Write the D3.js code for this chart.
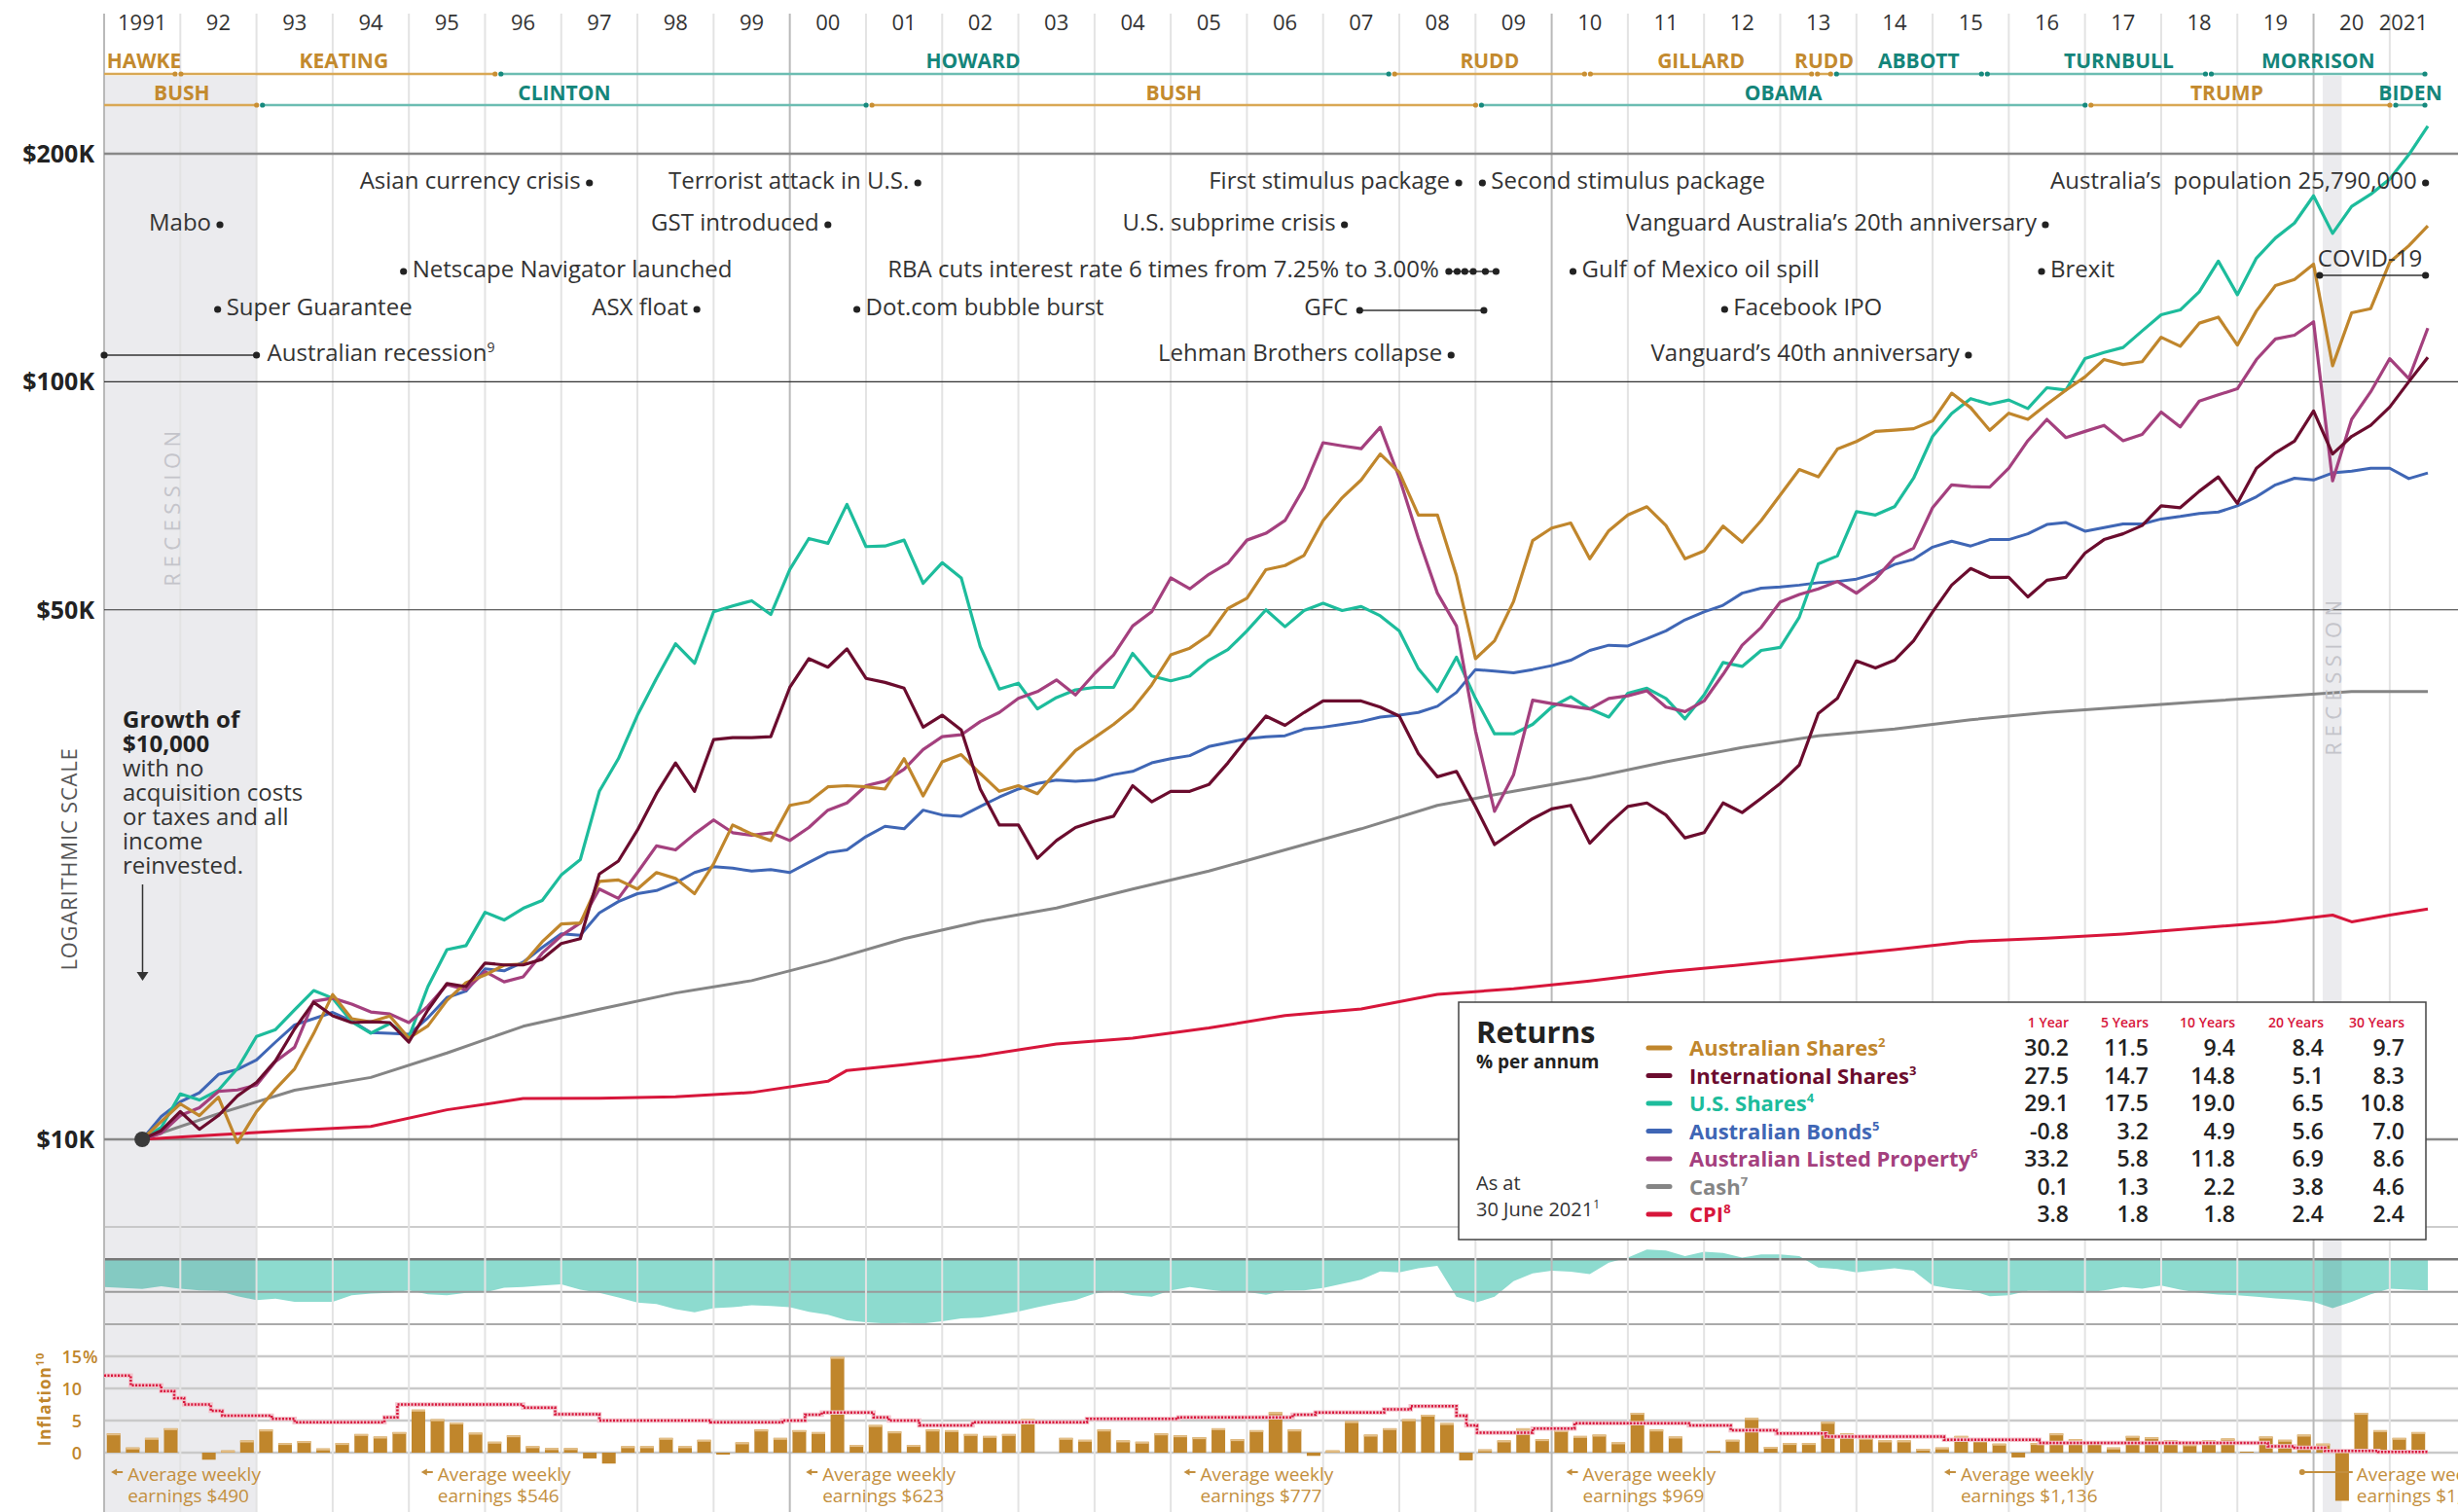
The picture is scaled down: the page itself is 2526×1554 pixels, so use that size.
<!DOCTYPE html>
<html>
<head>
<meta charset="utf-8">
<script src="https://cdn.jsdelivr.net/npm/d3@7"></script>
<style>
  body { margin: 0; background: #fff; }
  svg text { font-family: "Open Sans", "DejaVu Sans", sans-serif; }
</style>
</head>
<body>
<div id="chart"></div>
<script>
// ---------- data ----------
var years = d3.range(1991, 2022);
var yearLabels = ["1991","92","93","94","95","96","97","98","99","00","01","02","03","04","05","06","07","08","09","10","11","12","13","14","15","16","17","18","19","20","2021"];

// growth of $10,000 in $K, quarterly from June 1991 to June 2021
var quarterDates = d3.range(121).map(function(i) { return 1991.5 + i / 4; });
var ausShares = [10.0, 10.56,
  11.14, 10.75, 11.37, 9.9,   10.88, 11.65, 12.39, 13.79,  15.53, 14.43, 14.29, 14.55,
  13.60, 14.12, 15.26, 16.10, 16.48, 16.98, 17.04, 18.23,  19.24, 19.3, 21.9, 22.0,
  21.4, 22.5, 22.1, 21.1,     23.1, 26.0, 25.3, 24.8,      27.6, 27.9, 29.2, 29.3,
  29.2, 29.0, 31.8, 28.4,     31.5, 32.2, 30.4, 28.8,      29.3, 28.6, 30.6, 32.6,
  33.9, 35.3, 37.0, 39.8,     43.6, 44.5, 46.3, 50.2,      51.8, 56.5, 57.2, 59.0,
  65.6, 70.3, 74.2, 80.3,     75.9, 66.7, 66.7, 55.5,      43.1, 45.5, 51.3, 61.7,
  64.1, 65.1, 58.4, 63.6,     66.7, 68.4, 64.6, 58.4,      59.8, 64.5, 61.4, 65.6,
  70.9, 76.6, 74.9, 81.5,     83.4, 86.0, 86.3, 86.7,      88.8, 96.6, 92.4, 86.3,
  90.9, 89.2, 93.4, 97.5,     101.5, 107.0, 105.4, 106.3,  114.5, 111.4, 119.5, 121.7,
  111.8, 124.0, 134.0, 136.5, 143.0, 105.0, 123.3, 124.9,  143.8, 151.2, 160.6];
var intShares = [10.0, 10.27,
  10.88, 10.31, 10.75, 11.41, 11.89, 12.70, 13.99, 15.17,  14.56, 14.26, 14.30, 14.26,
  13.44, 14.82, 16.06, 15.91, 17.09, 16.99, 16.99, 17.29,  18.13, 18.4, 22.4, 23.3,
  25.6, 28.6, 31.4, 28.8,     33.7, 33.9, 33.9, 34.0,      39.5, 43.1, 42.0, 44.4,
  40.6, 40.1, 39.4, 35.0,     36.3, 34.7, 29.0, 26.0,      26.0, 23.5, 24.8, 25.8,
  26.3, 26.7, 29.3, 27.9,     28.8, 28.8, 29.4, 31.4,      33.8, 36.2, 35.2, 36.6,
  37.9, 37.9, 37.9, 37.2,     36.2, 32.3, 30.1, 30.6,      27.5, 24.5, 25.5, 26.5,
  27.3, 27.6, 24.6, 26.1,     27.5, 27.8, 26.8, 25.0,      25.4, 27.8, 27.0, 28.2,
  29.5, 31.2, 36.5, 38.2,     42.8, 41.9, 42.9, 45.5,      49.7, 53.9, 56.7, 55.2,
  55.2, 52.0, 54.7, 55.2,     59.4, 61.9, 63.0, 64.6,      68.6, 68.2, 71.7, 74.9,
  69.1, 76.9, 80.6, 83.5,     91.5, 80.3, 84.7, 87.6,      92.6, 100.0, 107.7];
var usShares = [10.0, 10.37,
  11.48, 11.27, 11.61, 12.40, 13.67, 13.96, 14.82, 15.72,  15.36, 14.30, 13.81, 14.22,
  13.64, 15.91, 17.80, 18.02, 19.94, 19.48, 20.18, 20.67,  22.33, 23.4, 28.8, 31.8,
  36.3, 40.6, 45.1, 42.5,     49.7, 50.6, 51.4, 49.3,      56.5, 62.1, 61.2, 68.9,
  60.6, 60.7, 61.8, 54.2,     57.7, 55.1, 44.7, 39.3,      40.0, 37.0, 38.3, 39.2,
  39.5, 39.5, 43.8, 40.9,     40.3, 40.9, 42.9, 44.3,      46.9, 50.0, 47.5, 49.9,
  51.0, 49.9, 50.5, 49.1,     46.9, 41.8, 39.0, 43.3,      38.2, 34.3, 34.3, 35.3,
  37.2, 38.4, 37.0, 36.1,     38.8, 39.4, 38.2, 35.9,      38.6, 42.6, 42.1, 44.2,
  44.6, 48.9, 57.5, 58.9,     67.4, 66.7, 68.4, 74.6,      84.7, 90.8, 95.0, 93.4,
  94.6, 92.2, 98.2, 97.5,     107.3, 109.3, 111.0, 116.7,  122.6, 124.4, 131.5, 144.3,
  130.3, 145.6, 154.8, 162.0, 176.0, 157.0, 170.4, 176.8,  185.2, 199.4, 217.5];
var ausBonds = [10.0, 10.72,
  11.21, 11.52, 12.18, 12.37, 12.73, 13.44, 14.16, 14.43,  14.71, 14.33, 13.83, 13.80,
  13.76, 14.47, 15.39, 15.69, 16.79, 16.69, 17.13, 17.92,  18.68, 18.6, 19.9, 20.6,
  21.1, 21.3, 21.8, 22.5,     22.9, 22.8, 22.6, 22.7,      22.5, 23.2, 23.9, 24.1,
  25.1, 25.9, 25.7, 27.2,     26.8, 26.7, 27.5, 28.3,      29.0, 29.5, 29.8, 29.7,
  29.8, 30.3, 30.6, 31.4,     31.8, 32.1, 33.0, 33.4,      33.8, 34.0, 34.1, 34.8,
  35.0, 35.3, 35.6, 36.1,     36.3, 36.6, 37.3, 38.9,      41.7, 41.5, 41.3, 41.7,
  42.2, 42.9, 44.2, 44.9,     44.8, 45.8, 46.9, 48.5,      49.7, 50.7, 52.6, 53.4,
  53.6, 53.9, 54.3, 54.5,     54.9, 55.8, 57.4, 58.3,      60.5, 61.6, 60.7, 61.9,
  61.9, 63.0, 64.8, 65.2,     63.5, 64.2, 64.9, 64.9,      65.9, 66.4, 67.0, 67.3,
  68.6, 70.5, 73.1, 74.6,     74.2, 75.8, 76.2, 76.9,      76.9, 74.5, 75.8];
var ausProperty = [10.0, 10.19,
  10.75, 11.01, 11.57, 11.62, 11.79, 12.67, 13.23, 15.21,  15.36, 15.08, 14.73, 14.64,
  14.26, 14.99, 16.01, 15.76, 16.65, 16.14, 16.39, 17.61,  18.57, 19.3, 21.4, 20.8,
  22.5, 24.4, 24.1, 25.3,     26.4, 25.4, 25.2, 25.4,      24.8, 25.8, 27.2, 27.8,
  29.3, 29.7, 30.8, 32.7,     34.0, 34.2, 35.6, 36.6,      38.2, 39.0, 40.4, 38.6,
  41.2, 43.6, 47.6, 49.7,     55.1, 53.3, 55.7, 57.6,      61.8, 63.1, 65.6, 72.5,
  83.1, 82.3, 81.6, 87.1,     74.7, 62.2, 52.6, 47.6,      34.6, 27.1, 30.3, 38.0,
  37.6, 37.3, 37.0, 38.2,     38.5, 39.1, 37.2, 36.7,      37.9, 41.1, 44.9, 47.4,
  51.2, 52.4, 53.3, 54.5,     52.6, 54.9, 58.6, 60.3,      68.2, 73.1, 72.7, 72.6,
  76.9, 83.6, 89.2, 84.4,     86.0, 87.6, 83.6, 85.2,      91.2, 87.2, 94.3, 96.1,
  97.9, 107.0, 113.9, 115.2,  120.0, 74.0, 89.2, 97.0,     107.3, 101.0, 117.7];
var cashDates = d3.range(31).map(function(i) { return 1991.5 + i; });
var cashValues = [10.0, 10.81, 11.61, 12.07, 13.0, 14.1, 14.85, 15.6, 16.2, 17.2, 18.4, 19.4, 20.2, 21.4, 22.6,
  24.1, 25.7, 27.6, 28.8, 30.0, 31.5, 32.9, 34.1, 34.8, 35.8, 36.6, 37.2, 37.8, 38.4, 39.0, 39.0];
var cpiDates = [1991.5, 1992.5, 1993.5, 1994.5, 1995.5, 1996.5, 1997.5, 1998.5, 1999.5, 2000.5, 2000.75, 2001.5,
  2002.5, 2003.5, 2004.5, 2005.5, 2006.5, 2007.5, 2008.5, 2009.5, 2010.5, 2011.5, 2012.5, 2013.5, 2014.5,
  2015.5, 2016.5, 2017.5, 2018.5, 2019.5, 2020.25, 2020.5, 2021.0, 2021.5];
var cpiValues = [10.0, 10.14, 10.28, 10.40, 10.94, 11.32, 11.33, 11.38, 11.53, 11.93, 12.33, 12.55,
  12.89, 13.36, 13.60, 14.03, 14.57, 14.86, 15.54, 15.80, 16.18, 16.64, 17.00, 17.40, 17.80,
  18.25, 18.43, 18.67, 19.01, 19.37, 19.77, 19.37, 19.77, 20.14];

// AUD in USD, quarterly from Jan 1991
var audDates = d3.range(123).map(function(i) { return 1991 + i / 4; });
var audUsd = [0.786, 0.779, 0.771, 0.792, 0.774, 0.761, 0.756, 0.716, 0.686, 0.696, 0.673, 0.673,
  0.673, 0.724, 0.736, 0.741, 0.761, 0.731, 0.724, 0.741, 0.746, 0.781, 0.786, 0.799,
  0.807, 0.766, 0.741, 0.706, 0.666, 0.656, 0.616, 0.591, 0.623, 0.631, 0.646, 0.641,
  0.631, 0.596, 0.573, 0.530, 0.515, 0.505, 0.510, 0.505, 0.523, 0.545, 0.550, 0.573,
  0.598, 0.631, 0.661, 0.686, 0.736, 0.756, 0.724, 0.711, 0.761, 0.786, 0.766, 0.749,
  0.749, 0.726, 0.759, 0.761, 0.779, 0.812, 0.844, 0.907, 0.900, 0.932, 0.950, 0.711,
  0.666, 0.711, 0.832, 0.892, 0.912, 0.905, 0.887, 0.975, 1.013, 1.075, 1.068, 1.025,
  1.058, 1.050, 1.013, 1.038, 1.038, 1.025, 0.937, 0.925, 0.900, 0.917, 0.932, 0.912,
  0.799, 0.774, 0.761, 0.716, 0.724, 0.756, 0.756, 0.749, 0.741, 0.761, 0.786, 0.774,
  0.799, 0.766, 0.741, 0.729, 0.724, 0.711, 0.699, 0.689, 0.673, 0.623, 0.673, 0.731,
  0.774, 0.766, 0.761];

// inflation, % annualised, one bar per quarter from 1991 Q1
var inflation = [3.0, 0.8, 2.3, 3.8,  0.0, -1.1, 0.35, 1.9,  3.6, 1.5, 1.8, 0.65,  1.5, 2.9, 2.5, 3.2,
  6.7, 5.2, 4.7, 3.1,  1.7, 2.7, 1.0, 0.7,  0.7, -0.9, -1.7, 1.0,  1.0, 2.3, 1.0, 2.0,
  -0.3, 1.6, 3.6, 2.3,  3.5, 3.2, 14.9, 1.2,  4.3, 3.3, 1.2, 3.6,  3.5, 2.9, 2.6, 2.9,
  5.2, 0.0, 2.3, 2.0,  3.6, 1.9, 1.7, 3.0,  2.7, 2.4, 3.8, 2.1,  3.5, 6.3, 3.6, -0.5,
  0.35, 4.9, 2.8, 3.8,  5.2, 5.9, 4.6, -1.2,  0.5, 1.9, 3.8, 2.1,  3.5, 2.6, 2.8, 1.6,
  6.2, 3.6, 2.5, 0.0,  0.25, 2.0, 5.4, 0.9,  1.5, 1.5, 4.8, 3.0,  2.3, 1.9, 1.9, 0.6,
  0.8, 2.6, 1.9, 1.4,  -0.75, 1.5, 3.0, 2.1,  1.7, 0.8, 2.6, 2.4,  1.9, 1.3, 1.9, 2.2,
  0.15, 2.5, 2.0, 2.8,  1.4, -7.5, 6.2, 3.5,  2.3, 3.2];

// cash rate, %
var rateDates = [1991.0, 1991.35, 1991.75, 1991.92, 1992.05, 1992.4, 1992.55, 1993.2, 1993.5, 1994.68, 1994.85,
  1996.5, 1996.92, 1997.5, 1998.96, 1999.9, 2000.2, 2000.42, 2001.1, 2001.3, 2001.7, 2002.4, 2003.9, 2005.1,
  2006.6, 2006.9, 2007.8, 2008.15, 2008.75, 2008.88, 2009.02, 2009.75, 2010.3, 2011.8, 2012.35, 2012.95,
  2013.6, 2015.15, 2016.4, 2019.4, 2019.75, 2020.15, 2020.85, 2021.5];
var rateValues = [12.0, 10.5, 9.6, 8.5, 7.5, 6.5, 5.75, 5.25, 4.75, 5.5, 7.5,
  7.0, 6.0, 5.0, 4.75, 5.0, 5.9, 6.25, 5.5, 5.0, 4.25, 4.75, 5.25, 5.5,
  5.9, 6.25, 6.75, 7.25, 5.75, 4.25, 3.1, 3.75, 4.6, 4.25, 3.5, 3.0,
  2.5, 2.0, 1.5, 1.0, 0.75, 0.25, 0.1, 0.1];

var recessionStart = [1991.0, 2020.12];
var recessionEnd = [1993.0, 2020.37];

var pmNames = ["HAWKE", "KEATING", "HOWARD", "RUDD", "GILLARD", "RUDD", "ABBOTT", "TURNBULL", "MORRISON"];
var pmStart = [1991.0, 1991.97, 1996.17, 2007.9, 2010.47, 2013.45, 2013.7, 2015.68, 2018.62];
var pmGold = [true, true, false, true, true, true, false, false, false];
var usNames = ["BUSH", "CLINTON", "BUSH", "OBAMA", "TRUMP", "BIDEN"];
var usStart = [1991.0, 1993.04, 2001.04, 2009.04, 2017.04, 2021.04];
var usGold = [true, false, true, false, true, false];

var eventLabels = ["Asian currency crisis", "Terrorist attack in U.S.", "First stimulus package", "Second stimulus package",
  "Australia\u2019s  population 25,790,000", "Mabo", "GST introduced", "U.S. subprime crisis",
  "Vanguard Australia\u2019s 20th anniversary", "Netscape Navigator launched", "Gulf of Mexico oil spill", "Brexit",
  "Super Guarantee", "ASX float", "Dot.com bubble burst", "Facebook IPO", "Lehman Brothers collapse",
  "Vanguard\u2019s 40th anniversary"];
var eventDates = [1997.37, 2001.68, 2008.78, 2009.09, 2021.47, 1992.52, 2000.5, 2007.28, 2016.48, 1994.93,
  2010.28, 2016.43, 1992.49, 1998.78, 2000.88, 2012.27, 2008.68, 2015.47];
var eventRows = [0, 0, 0, 0, 0, 1, 1, 1, 1, 2, 2, 2, 3, 3, 3, 3, 4, 4];
var eventTextLeft = [true, true, true, false, true, true, true, true, true, false, false, false, false, true, false, false, true, true];
var rbaCutDates = [2008.65, 2008.76, 2008.86, 2008.97, 2009.13, 2009.27];

var earningsDates = [1991.04, 1995.11, 2000.16, 2005.12, 2010.14, 2015.1, 2019.85];
var earningsLabels = ["$490", "$546", "$623", "$777", "$969", "$1,136", "$1,737"];

var seriesNames = ["Australian Shares", "International Shares", "U.S. Shares", "Australian Bonds",
  "Australian Listed Property", "Cash", "CPI"];
var seriesNotes = ["2", "3", "4", "5", "6", "7", "8"];
var seriesColors = ["#c0862c", "#6b0c2e", "#1dbc9c", "#3f66b5", "#a4407e", "#858585", "#d7163b"];
var returnPeriods = ["1 Year", "5 Years", "10 Years", "20 Years", "30 Years"];
var returnsTable = [
  [30.2, 11.5, 9.4, 8.4, 9.7],
  [27.5, 14.7, 14.8, 5.1, 8.3],
  [29.1, 17.5, 19.0, 6.5, 10.8],
  [-0.8, 3.2, 4.9, 5.6, 7.0],
  [33.2, 5.8, 11.8, 6.9, 8.6],
  [0.1, 1.3, 2.2, 3.8, 4.6],
  [3.8, 1.8, 1.8, 2.4, 2.4]];

// ---------- drawing ----------
var svgWidth = 2526;
var svgHeight = 1554;
var svg = d3.select("#chart").append("svg")
  .attr("width", svgWidth)
  .attr("height", svgHeight);
svg.append("rect").attr("width", svgWidth).attr("height", svgHeight).attr("fill", "#fff");

var x = d3.scaleLinear().domain([1991, 2021.5]).range([107, 2495]);
var y = d3.scaleLog().domain([10, 200]).range([1171, 158]);
var yAud = d3.scaleLinear().domain([0.5, 1.25]).range([1361, 1261]);
var yInf = d3.scaleLinear().domain([0, 15]).range([1493, 1394]);

var gold = "#c0862c";

// exchange-rate band
svg.append("path")
  .datum(audDates.map(function(d, i) { return [d, audUsd[i]]; }))
  .attr("fill", "#8ddbcf")
  .attr("d", d3.area().x(function(d) { return x(d[0]); }).y0(yAud(1)).y1(function(d) { return yAud(d[1]); }));

// recession shading
recessionStart.forEach(function(s, i) {
  svg.append("rect")
    .attr("x", x(s)).attr("width", x(recessionEnd[i]) - x(s))
    .attr("y", 78).attr("height", svgHeight - 78)
    .attr("fill", "#3c3c5a").attr("opacity", 0.1);
});

// lower horizontal grid
[[1.25, "#bdbdbd", 1.5], [1, "#777", 2.5], [0.75, "#9a9a9a", 2], [0.5, "#aaa", 2]].forEach(function(g) {
  svg.append("line").attr("x1", 107).attr("x2", svgWidth).attr("y1", yAud(g[0])).attr("y2", yAud(g[0]))
    .attr("stroke", g[1]).attr("stroke-width", g[2]);
});
[15, 10, 5, 0].forEach(function(v) {
  svg.append("line").attr("x1", 107).attr("x2", svgWidth).attr("y1", yInf(v)).attr("y2", yInf(v))
    .attr("stroke", "#c9c9c9").attr("stroke-width", 2.5);
});

// vertical year grid
years.forEach(function(yr) {
  var dark = yr % 10 === 0 || yr === 1991;
  svg.append("line").attr("x1", x(yr)).attr("x2", x(yr)).attr("y1", 14).attr("y2", svgHeight)
    .attr("stroke", dark ? "#b9b9b9" : "#e3e3e3").attr("stroke-width", 2);
});

// inflation bars
var bars = svg.append("g");
inflation.forEach(function(v, k) {
  var cx = x(1991 + (k + 0.5) / 4);
  bars.append("rect")
    .attr("x", cx - 7).attr("width", 14)
    .attr("y", yInf(Math.max(v, 0))).attr("height", Math.abs(yInf(v) - yInf(0)))
    .attr("fill", gold);
  if (v > 0.3) {
    bars.append("rect").attr("x", cx - 7).attr("width", 14).attr("y", yInf(v)).attr("height", 2).attr("fill", "#e4c08a");
  }
});

// cash rate dotted line
var rateLine = d3.line().curve(d3.curveStepAfter)
  .x(function(d) { return x(d[0]); }).y(function(d) { return yInf(d[1]); });
var rateData = rateDates.map(function(d, i) { return [d, rateValues[i]]; });
svg.append("path").datum(rateData).attr("d", rateLine).attr("fill", "none")
  .attr("stroke", "#f3c4cd").attr("stroke-width", 4.5);
svg.append("path").datum(rateData).attr("d", rateLine).attr("fill", "none")
  .attr("stroke", "#d7163b").attr("stroke-width", 2.5).attr("stroke-dasharray", "2 1.5");

// main horizontal grid
[[200, "#888", 2.5], [100, "#333", 1.2], [50, "#333", 1.2], [10, "#888", 2.5]].forEach(function(g) {
  svg.append("line").attr("x1", 107).attr("x2", svgWidth).attr("y1", y(g[0])).attr("y2", y(g[0]))
    .attr("stroke", g[1]).attr("stroke-width", g[2]);
});

// series
var line = d3.line().x(function(d) { return x(d[0]); }).y(function(d) { return y(d[1]); });
function pairs(dates, values) { return dates.map(function(d, i) { return [d, values[i]]; }); }
var drawOrder = [
  [pairs(cashDates, cashValues), seriesColors[5], 3],
  [pairs(cpiDates, cpiValues), seriesColors[6], 3],
  [pairs(quarterDates, ausBonds), seriesColors[3], 3],
  [pairs(quarterDates, usShares), seriesColors[2], 3.2],
  [pairs(quarterDates, ausProperty), seriesColors[4], 3.2],
  [pairs(quarterDates, ausShares), seriesColors[0], 3.2],
  [pairs(quarterDates, intShares), seriesColors[1], 3.2]];
drawOrder.forEach(function(s) {
  svg.append("path").datum(s[0]).attr("d", line).attr("fill", "none")
    .attr("stroke", s[1]).attr("stroke-width", s[2]).attr("stroke-linejoin", "round");
});
svg.append("circle").attr("cx", x(1991.5)).attr("cy", y(10)).attr("r", 8).attr("fill", "#3a3a3a");

// y axis labels
[[200, "$200K"], [100, "$100K"], [50, "$50K"], [10, "$10K"]].forEach(function(t) {
  svg.append("text").attr("x", 97).attr("y", y(t[0]) + 9).attr("text-anchor", "end")
    .attr("font-size", 25).attr("font-weight", 700).attr("fill", "#222").text(t[1]);
});
svg.append("text").attr("transform", "translate(79,883) rotate(-90)").attr("text-anchor", "middle")
  .attr("font-size", 22).attr("letter-spacing", 0.8).attr("fill", "#555").text("LOGARITHMIC SCALE");

// recession labels
[[185, 520], [2406, 694]].forEach(function(p) {
  svg.append("text").attr("transform", "translate(" + p[0] + "," + p[1] + ") rotate(-90)")
    .attr("text-anchor", "middle").attr("font-size", 22).attr("letter-spacing", 5.5)
    .attr("fill", "#c4c4ca").text("RECESSION");
});

// growth note
var note = [["Growth of", 700], ["$10,000", 700], ["with no", 400], ["acquisition costs", 400],
  ["or taxes and all", 400], ["income", 400], ["reinvested.", 400]];
note.forEach(function(n, i) {
  svg.append("text").attr("x", 126).attr("y", 748 + i * 25).attr("font-size", 24)
    .attr("font-weight", n[1]).attr("fill", n[1] === 700 ? "#222" : "#333").text(n[0]);
});
svg.append("line").attr("x1", 146.5).attr("x2", 146.5).attr("y1", 909).attr("y2", 1000)
  .attr("stroke", "#333").attr("stroke-width", 1.5);
svg.append("path").attr("d", "M140.5,999 L152.5,999 L146.5,1008 Z").attr("fill", "#333");

// year labels
yearLabels.forEach(function(t, i) {
  var last = i === yearLabels.length - 1;
  svg.append("text").attr("x", last ? x(2021.5) : x(years[i] + 0.5)).attr("y", 31)
    .attr("text-anchor", last ? "end" : "middle").attr("font-size", 22).attr("fill", "#333").text(t);
});

// leaders
function drawTerms(names, starts, isGold, lineY, textY, nudges) {
  var g = svg.append("g");
  names.forEach(function(name, i) {
    var s = starts[i], e = i < names.length - 1 ? starts[i + 1] : 2021.5;
    var lineColor = isGold[i] ? "#d9a855" : "#6cbdb2";
    var dotColor = isGold[i] ? "#c98f33" : "#16897d";
    var x1 = x(s) + (i === 0 ? 0 : 3), x2 = x(e) - 3;
    g.append("line").attr("x1", x1).attr("x2", x2).attr("y1", lineY).attr("y2", lineY)
      .attr("stroke", lineColor).attr("stroke-width", 2.5);
    if (i > 0) g.append("circle").attr("cx", x1).attr("cy", lineY).attr("r", 2.6).attr("fill", dotColor);
    g.append("circle").attr("cx", x2).attr("cy", lineY).attr("r", 2.6).attr("fill", dotColor);
    g.append("text").attr("x", (x(s) + x(e)) / 2 + (nudges[name + i] || 0)).attr("y", textY)
      .attr("text-anchor", "middle").attr("font-size", 21).attr("font-weight", 700)
      .attr("fill", isGold[i] ? "#c38a2e" : "#14857a").text(name);
  });
}
drawTerms(pmNames, pmStart, pmGold, 76, 70, { HAWKE0: 3, KEATING1: 6, HOWARD2: 29, ABBOTT6: 10, TURNBULL7: 23 });
drawTerms(usNames, usStart, usGold, 108, 103, { TRUMP4: -14 });

// events
var rowBase = [194, 237, 285, 324, 371];
var ann = svg.append("g").attr("font-size", 24).attr("fill", "#333");
function dot(cx, cy) { ann.append("circle").attr("cx", cx).attr("cy", cy).attr("r", 3.6).attr("fill", "#222"); }
eventLabels.forEach(function(label, i) {
  var cx = x(eventDates[i]), by = rowBase[eventRows[i]];
  dot(cx, by - 6);
  ann.append("text").attr("x", eventTextLeft[i] ? cx - 9 : cx + 9).attr("y", by)
    .attr("text-anchor", eventTextLeft[i] ? "end" : "start").style("white-space", "pre").text(label);
});
function span(a, b, yy) {
  ann.append("line").attr("x1", x(a)).attr("x2", x(b)).attr("y1", yy).attr("y2", yy)
    .attr("stroke", "#333").attr("stroke-width", 1.5);
  dot(x(a), yy); dot(x(b), yy);
}
// Australian recession
span(1991.0, 1993.0, rowBase[4] - 6);
var rec = ann.append("text").attr("x", x(1993.0) + 11).attr("y", rowBase[4]).text("Australian recession");
rec.append("tspan").attr("baseline-shift", "super").attr("font-size", 14).text("9");
// GFC
span(2007.48, 2009.11, rowBase[3] - 5);
ann.append("text").attr("x", x(2007.48) - 12).attr("y", rowBase[3]).attr("text-anchor", "end").text("GFC");
// RBA cuts
ann.append("line").attr("x1", x(rbaCutDates[0])).attr("x2", x(rbaCutDates[5]))
  .attr("y1", rowBase[2] - 6).attr("y2", rowBase[2] - 6).attr("stroke", "#333").attr("stroke-width", 1.5);
rbaCutDates.forEach(function(d) { dot(x(d), rowBase[2] - 6); });
ann.append("text").attr("x", x(rbaCutDates[0]) - 10).attr("y", rowBase[2]).attr("text-anchor", "end")
  .text("RBA cuts interest rate 6 times from 7.25% to 3.00%");
// COVID-19
span(2020.08, 2021.47, 283);
ann.append("text").attr("x", x(2020.08) - 2).attr("y", 274).text("COVID-19");

// inflation axis
svg.append("text").attr("transform", "translate(52,1438) rotate(-90)").attr("text-anchor", "middle")
  .attr("font-size", 17).attr("font-weight", 700).attr("letter-spacing", 1).attr("fill", gold)
  .text("Inflation").append("tspan").attr("baseline-shift", "super").attr("font-size", 11).text("10");
[15, 10, 5, 0].forEach(function(v) {
  svg.append("text").attr("x", 84).attr("y", yInf(v) + 7).attr("text-anchor", "end")
    .attr("font-size", 18).attr("font-weight", 600).attr("fill", gold).text(v);
});
svg.append("text").attr("x", 85).attr("y", yInf(15) + 7).attr("font-size", 18).attr("font-weight", 600)
  .attr("fill", gold).text("%");

// average weekly earnings
earningsDates.forEach(function(d, i) {
  var ex = x(d), last = i === earningsDates.length - 1;
  var g = svg.append("g").attr("fill", "#c38f3e").attr("font-size", 19);
  if (last) {
    g.append("line").attr("x1", ex).attr("x2", ex + 52).attr("y1", 1513).attr("y2", 1513)
      .attr("stroke", "#c38f3e").attr("stroke-width", 2);
    g.append("circle").attr("cx", ex).attr("cy", 1513).attr("r", 3);
  } else {
    g.append("path").attr("d", "M" + (ex + 4) + ",1513 l6,-3.5 v7 z");
    g.append("line").attr("x1", ex + 8).attr("x2", ex + 16).attr("y1", 1513).attr("y2", 1513)
      .attr("stroke", "#c38f3e").attr("stroke-width", 2);
  }
  var tx = last ? ex + 56 : ex + 21;
  g.append("text").attr("x", tx).attr("y", 1522).text("Average weekly");
  g.append("text").attr("x", tx).attr("y", 1544).text("earnings " + earningsLabels[i]);
});

// returns box
var box = svg.append("g");
box.append("rect").attr("x", 1499).attr("y", 1030).attr("width", 994).attr("height", 244)
  .attr("fill", "#fff").attr("stroke", "#444").attr("stroke-width", 1.5);
box.append("text").attr("x", 1517).attr("y", 1072).attr("font-size", 31).attr("font-weight", 700)
  .attr("fill", "#222").text("Returns");
box.append("text").attr("x", 1517).attr("y", 1098).attr("font-size", 19).attr("font-weight", 700)
  .attr("fill", "#222").text("% per annum");
box.append("text").attr("x", 1517).attr("y", 1223).attr("font-size", 20).attr("fill", "#333").text("As at");
box.append("text").attr("x", 1517).attr("y", 1250).attr("font-size", 20).attr("fill", "#333")
  .text("30 June 2021").append("tspan").attr("baseline-shift", "super").attr("font-size", 12).text("1");
var colRight = [2126, 2208, 2297, 2388, 2471];
returnPeriods.forEach(function(p, j) {
  box.append("text").attr("x", colRight[j]).attr("y", 1056).attr("text-anchor", "end")
    .attr("font-size", 14).attr("font-weight", 600).attr("fill", "#d7163b").text(p);
});
var fmt = d3.format(".1f");
seriesNames.forEach(function(name, i) {
  var cy = 1077 + i * 28.5;
  box.append("line").attr("x1", 1694).attr("x2", 1716).attr("y1", cy).attr("y2", cy)
    .attr("stroke", seriesColors[i]).attr("stroke-width", 5).attr("stroke-linecap", "round");
  box.append("text").attr("x", 1736).attr("y", cy + 8).attr("font-size", 22).attr("font-weight", 700)
    .attr("fill", seriesColors[i]).text(name)
    .append("tspan").attr("baseline-shift", "super").attr("font-size", 13).text(seriesNotes[i]);
  returnsTable[i].forEach(function(v, j) {
    box.append("text").attr("x", colRight[j]).attr("y", cy + 8).attr("text-anchor", "end")
      .attr("font-size", 23).attr("font-weight", 600).attr("fill", "#222")
      .text(fmt(v).replace("\u2212", "-"));
  });
});
</script>
</body>
</html>
